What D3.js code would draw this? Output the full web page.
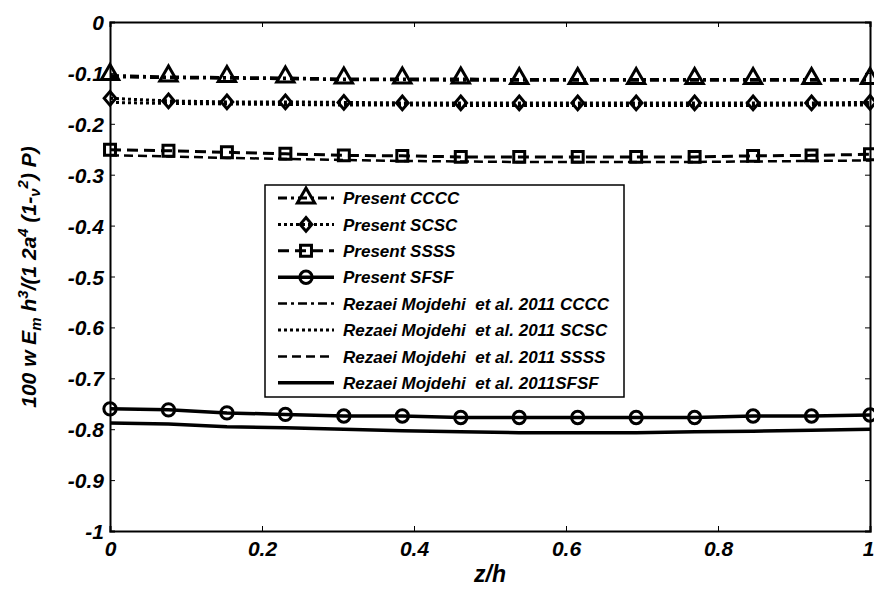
<!DOCTYPE html>
<html><head><meta charset="utf-8">
<script src="https://cdn.jsdelivr.net/npm/d3@7"></script>
<style>body{margin:0;background:#fff}svg{display:block}text{font-family:"Liberation Sans",Arial,sans-serif;font-weight:bold;font-style:italic}</style>
</head><body><svg id="c" width="874" height="590"></svg>
<script>
const zh = d3.range(14).map(i => i / 13);
const presentCCCC = [-0.105,-0.108,-0.109,-0.110,-0.112,-0.112,-0.112,-0.113,-0.113,-0.113,-0.113,-0.113,-0.113,-0.113];
const presentSCSC = [-0.150,-0.155,-0.157,-0.157,-0.158,-0.159,-0.159,-0.159,-0.159,-0.159,-0.159,-0.159,-0.159,-0.158];
const presentSSSS = [-0.251,-0.253,-0.256,-0.259,-0.262,-0.263,-0.265,-0.265,-0.265,-0.265,-0.265,-0.263,-0.262,-0.260];
const presentSFSF = [-0.760,-0.762,-0.768,-0.771,-0.774,-0.774,-0.777,-0.777,-0.777,-0.777,-0.777,-0.774,-0.774,-0.772];
const refCCCC = [-0.108,-0.110,-0.111,-0.112,-0.114,-0.114,-0.115,-0.115,-0.115,-0.115,-0.115,-0.115,-0.115,-0.115];
const refSCSC = [-0.158,-0.160,-0.161,-0.162,-0.163,-0.163,-0.164,-0.164,-0.164,-0.164,-0.164,-0.164,-0.163,-0.163];
const refSSSS = [-0.262,-0.264,-0.267,-0.269,-0.271,-0.273,-0.274,-0.275,-0.275,-0.275,-0.275,-0.274,-0.273,-0.272];
const refSFSF = [-0.788,-0.790,-0.795,-0.797,-0.800,-0.803,-0.805,-0.807,-0.807,-0.807,-0.805,-0.804,-0.802,-0.800];
const xTicks = [0, 0.2, 0.4, 0.6, 0.8, 1];
const yTicks = [0,-0.1,-0.2,-0.3,-0.4,-0.5,-0.6,-0.7,-0.8,-0.9,-1];
const legendLabels = ["Present CCCC","Present SCSC","Present SSSS","Present SFSF",
  "Rezaei Mojdehi  et al. 2011 CCCC","Rezaei Mojdehi  et al. 2011 SCSC","Rezaei Mojdehi  et al. 2011 SSSS","Rezaei Mojdehi  et al. 2011SFSF"];

const L = 110, R = 870, T = 22, B = 531;
const svg = d3.select("#c");
const x = d3.scaleLinear().domain([0, 1]).range([L, R]);
const y = d3.scaleLinear().domain([-1, 0]).range([B, T]);
const fmt = d => String(d);

const squareDiamond = { draw(ctx, size) { const r = Math.sqrt(size) / 2 * 1.2;
  ctx.moveTo(0, -r); ctx.lineTo(r * 0.85, 0); ctx.lineTo(0, r); ctx.lineTo(-r * 0.85, 0); ctx.closePath(); } };

const styles = [
  {data: presentCCCC, dash: "9,4,3,4", w: 3, marker: "triangle"},
  {data: presentSCSC, dash: "3,3", w: 3, marker: "diamond"},
  {data: presentSSSS, dash: "11,6", w: 3, marker: "square"},
  {data: presentSFSF, dash: null, w: 3.5, marker: "circle"},
  {data: refCCCC, dash: "9,4,3,4", w: 2.5, marker: null},
  {data: refSCSC, dash: "3,3", w: 3, marker: null},
  {data: refSSSS, dash: "9,5", w: 2.5, marker: null},
  {data: refSFSF, dash: null, w: 3.5, marker: null}
];
const symType = {triangle: d3.symbolTriangle, diamond: squareDiamond, square: d3.symbolSquare, circle: d3.symbolCircle};
const symSize = {triangle: 130, diamond: 130, square: 120, circle: 120};

// axes box
const gx = svg.append("g").attr("transform", `translate(0,${B})`)
  .call(d3.axisBottom(x).tickValues(xTicks).tickSize(-5).tickPadding(9).tickFormat(fmt));
const gxt = svg.append("g").attr("transform", `translate(0,${T})`)
  .call(d3.axisTop(x).tickValues(xTicks).tickSize(-5).tickFormat(""));
const gy = svg.append("g").attr("transform", `translate(${L},0)`)
  .call(d3.axisLeft(y).tickValues(yTicks).tickSize(-5).tickPadding(6).tickFormat(fmt));
const gyr = svg.append("g").attr("transform", `translate(${R},0)`)
  .call(d3.axisRight(y).tickValues(yTicks).tickSize(-5).tickFormat(""));
[gx, gxt, gy, gyr].forEach(g => {
  g.select(".domain").attr("stroke", "#000").attr("stroke-width", 2);
  g.selectAll(".tick line").attr("stroke", "#000").attr("stroke-width", 1);
});
gx.selectAll("text").attr("font-size", 21).attr("fill", "#000").attr("dy", "0.75em")
  .attr("dx", d => d === 1 ? -2 : 0);
gy.selectAll("text").attr("font-size", 21).attr("fill", "#000").attr("dy", "0.36em");

const line = d3.line().x((d, i) => x(zh[i])).y(d => y(d));
styles.forEach(s => {
  svg.append("path").datum(s.data).attr("d", line).attr("fill", "none")
    .attr("stroke", "#000").attr("stroke-width", s.w)
    .attr("stroke-dasharray", s.dash).attr("stroke-linejoin", "round");
});
styles.forEach(s => {
  if (!s.marker) return;
  svg.append("g").selectAll("path").data(s.data).join("path")
    .attr("transform", (d, i) => `translate(${x(zh[i])},${y(d) + (s.marker === "triangle" ? -1 : 0)})`)
    .attr("d", d3.symbol().type(symType[s.marker]).size(symSize[s.marker]))
    .attr("fill", "none").attr("stroke", "#000").attr("stroke-width", 3);
});

// legend
const lg = svg.append("g");
lg.append("rect").attr("x", 265).attr("y", 185).attr("width", 359).attr("height", 212)
  .attr("fill", "#fff").attr("stroke", "#000").attr("stroke-width", 1.5);
styles.forEach((s, i) => {
  const yy = 198 + i * 26.4;
  lg.append("line").attr("x1", 278).attr("x2", 334).attr("y1", yy).attr("y2", yy)
    .attr("stroke", "#000").attr("stroke-width", s.w).attr("stroke-dasharray", s.dash);
  if (s.marker) {
    lg.append("path").attr("transform", `translate(306,${yy})`)
      .attr("d", d3.symbol().type(symType[s.marker]).size(symSize[s.marker]))
      .attr("fill", "none").attr("stroke", "#000").attr("stroke-width", 3);
  }
  lg.append("text").attr("x", 343).attr("y", yy).attr("dy", "0.36em")
    .attr("font-size", 17).attr("fill", "#000").attr("xml:space", "preserve").text(legendLabels[i]);
});

// axis labels
svg.append("text").attr("x", 490).attr("y", 582).attr("text-anchor", "middle")
  .attr("font-size", 23).text("z/h");
const yl = svg.append("text").attr("transform", "translate(36,277) rotate(-90)")
  .attr("text-anchor", "middle").attr("font-size", 21);
yl.append("tspan").text("100 w E");
yl.append("tspan").attr("font-size", 15).attr("dy", 5).text("m");
yl.append("tspan").attr("dy", -5).text(" h");
yl.append("tspan").attr("font-size", 15).attr("dy", -8).text("3");
yl.append("tspan").attr("dy", 8).text("/(1 2a");
yl.append("tspan").attr("font-size", 15).attr("dy", -8).text("4");
yl.append("tspan").attr("dy", 8).text(" (1-");
yl.append("tspan").attr("font-size", 15).attr("dy", 4).text("ν");
yl.append("tspan").attr("font-size", 15).attr("dy", -12).text("2");
yl.append("tspan").attr("dy", 8).text(") P)");
</script></body></html>
